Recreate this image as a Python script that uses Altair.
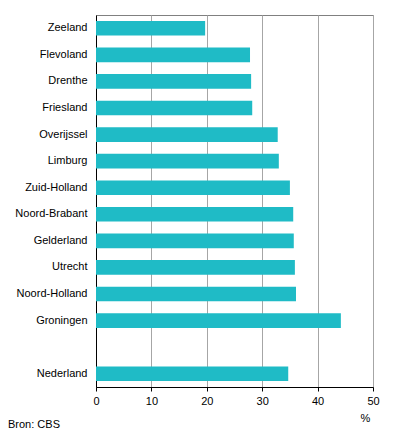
import altair as alt
import pandas as pd

provinces = ["Zeeland", "Flevoland", "Drenthe", "Friesland", "Overijssel", "Limburg",
             "Zuid-Holland", "Noord-Brabant", "Gelderland", "Utrecht", "Noord-Holland",
             "Groningen", "Nederland"]
values = [19.7, 27.8, 28.0, 28.2, 32.8, 33.0, 35.0, 35.6, 35.7, 35.9, 36.1, 44.2, 34.7]
order = provinces[:12] + [" "] + ["Nederland"]
x_ticks = [0, 10, 20, 30, 40, 50]

df = pd.DataFrame({"regio": provinces, "pct": values})
FONT = "Liberation Sans"

bars = alt.Chart(df).mark_bar(color="#1FBBC6").encode(
    x=alt.X("pct:Q",
            scale=alt.Scale(domain=[0, 50], nice=False),
            axis=alt.Axis(values=x_ticks, title="%", titleX=269, titleY=31,
                          titleAlign="center", titleBaseline="middle",
                          titleFontWeight="normal", titleFont=FONT, titleFontSize=11,
                          titleColor="black",
                          domainColor="black", tickColor="black", tickSize=4,
                          labelPadding=4, labelFont=FONT, labelFontSize=11,
                          labelFontWeight="normal",
                          labelColor="black", grid=True, gridColor="#A6A6A6",
                          labelFlush=False)),
    y=alt.Y("regio:N", sort=order,
            scale=alt.Scale(domain=order, paddingInner=0.45, paddingOuter=0.225),
            axis=alt.Axis(title=None, ticks=False, domainColor="black",
                          labelPadding=9, labelFont=FONT, labelFontSize=11,
                          labelFontWeight="normal",
                          labelColor="black", grid=False)),
)

src = alt.Chart(pd.DataFrame({"t": ["Bron: CBS"]})).mark_text(
    align="left", baseline="middle", font=FONT, fontSize=11, color="black",
    fontWeight="normal"
).encode(text="t:N", x=alt.value(-88), y=alt.value(410))

chart = alt.layer(bars, src).properties(
    width=277, height=372,
    padding={"left": 88, "top": 7, "right": 15, "bottom": 48},
    autosize=alt.AutoSizeParams(type="none"),
).configure_view(stroke="#808080", strokeWidth=1)

chart.save("out.html", embed_options={"renderer": "svg", "actions": False})
